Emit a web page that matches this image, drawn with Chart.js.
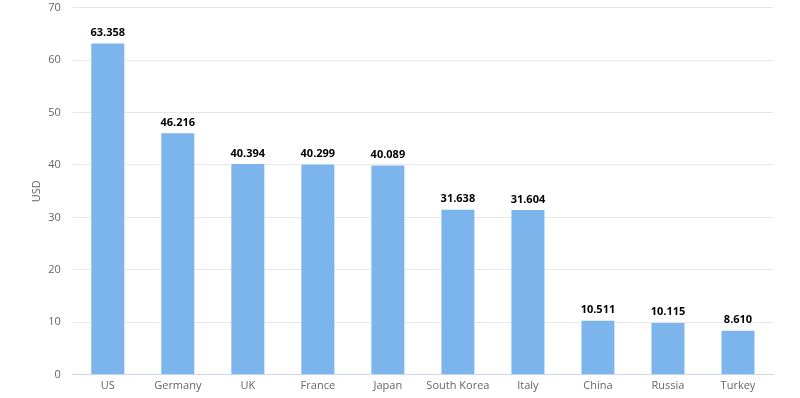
<!DOCTYPE html>
<html>
<head>
<meta charset="utf-8">
<script src="https://cdn.jsdelivr.net/npm/chart.js@4/dist/chart.umd.min.js"></script>
<style>
html,body{margin:0;padding:0;background:#fff;overflow:hidden;}
#wrap{width:800px;height:398px;position:relative;overflow:hidden;}
#c{position:absolute;left:0;top:-11px;}
</style>
</head>
<body>
<div id="wrap"><canvas id="c" width="800" height="407"></canvas></div>
<script>
const categories = ["US","Germany","UK","France","Japan","South Korea","Italy","China","Russia","Turkey"];
const values = [63.358,46.216,40.394,40.299,40.089,31.638,31.604,10.511,10.115,8.610];
const yTicks = [0,10,20,30,40,50,60,70];
const yAxisTitle = "USD";

const FONT = "'Open Sans', 'DejaVu Sans', sans-serif";

const dataLabels = {
  id: 'dataLabels',
  afterDatasetsDraw(chart) {
    const ctx = chart.ctx;
    const meta = chart.getDatasetMeta(0);
    ctx.save();
    ctx.font = "bold 11px " + FONT;
    ctx.textAlign = 'center';
    ctx.textBaseline = 'bottom';
    ctx.lineJoin = 'round';
    meta.data.forEach((bar, i) => {
      const v = chart.data.datasets[0].data[i];
      const txt = v.toFixed(3);
      const p = bar.getProps(['x','y'], true);
      ctx.strokeStyle = '#ffffff';
      ctx.lineWidth = 3;
      ctx.strokeText(txt, p.x, p.y - 4);
      ctx.fillStyle = '#000000';
      ctx.fillText(txt, p.x, p.y - 4);
    });
    ctx.restore();
  }
};

new Chart(document.getElementById('c'), {
  type: 'bar',
  data: {
    labels: categories,
    datasets: [{
      data: values,
      backgroundColor: '#7cb5ec',
      borderColor: '#ffffff',
      borderWidth: 1,
      barPercentage: 0.5,
      categoryPercentage: 1.0
    }]
  },
  options: {
    responsive: false,
    animation: false,
    devicePixelRatio: 1,
    layout: { padding: { top: 0, right: 27, bottom: 0, left: 30 } },
    plugins: { legend: { display: false }, tooltip: { enabled: false } },
    scales: {
      x: {
        grid: { display: false, drawTicks: false },
        border: { color: '#ccd6eb', width: 1 },
        ticks: { color: '#666666', font: { family: FONT, size: 11 }, padding: 4, maxRotation: 0 }
      },
      y: {
        min: 0, max: 70,
        afterBuildTicks(axis) { axis.ticks = yTicks.map(v => ({ value: v })); },
        grid: { color: '#e6e6e6', drawTicks: false },
        border: { display: false },
        ticks: { color: '#666666', font: { family: FONT, size: 11 }, padding: 12 },
        title: { display: true, text: yAxisTitle, color: '#666666', font: { family: FONT, size: 11 }, padding: { top: 0, bottom: -7 } }
      }
    }
  },
  plugins: [dataLabels]
});
</script>
</body>
</html>
